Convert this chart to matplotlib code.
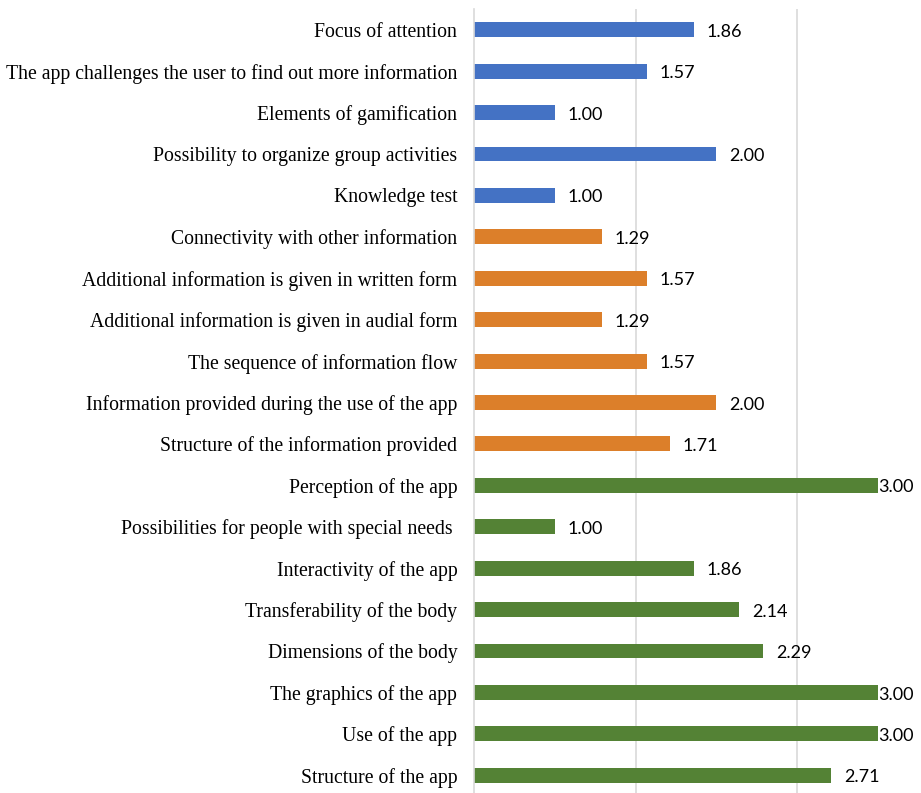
import matplotlib.pyplot as plt

# categories listed top to bottom, as in the picture
labels = [
    'Focus of attention',
    'The app challenges the user to find out more information',
    'Elements of gamification',
    'Possibility to organize group activities',
    'Knowledge test',
    'Connectivity with other information',
    'Additional information is given in written form',
    'Additional information is given in audial form',
    'The sequence of information flow',
    'Information provided during the use of the app',
    'Structure of the information provided',
    'Perception of the app',
    'Possibilities for people with special needs ',
    'Interactivity of the app',
    'Transferability of the body',
    'Dimensions of the body',
    'The graphics of the app',
    'Use of the app',
    'Structure of the app',
]
values = [1.86, 1.57, 1.00, 2.00, 1.00,
          1.29, 1.57, 1.29, 1.57, 2.00, 1.71,
          3.00, 1.00, 1.86, 2.14, 2.29, 3.00, 3.00, 2.71]
groups = ['blue'] * 5 + ['orange'] * 6 + ['green'] * 8

palette = {'blue': '#4472C4', 'orange': '#DC7F2A', 'green': '#548235'}
colors = [palette[g] for g in groups]

W, H = 921, 793
fig = plt.figure(figsize=(W / 100, H / 100), dpi=100)
ax = fig.add_axes([474 / W, -3 / H, (878 - 474) / W, 787 / H])

y = list(range(len(labels)))
ax.barh(y, values, color=colors, height=0.36, zorder=2)
ax.set_ylim(len(labels) - 0.5, -0.5)
ax.set_xlim(0.5, 3.0)

ax.set_yticks(y)
ax.set_yticklabels(labels, family='Liberation Serif', fontsize=14.2)
ax.tick_params(axis='y', length=0, pad=12)
ax.set_xticks([1.5, 2.5])
ax.tick_params(axis='x', length=0, labelbottom=False)
ax.grid(axis='x', color='#D9D9D9', linewidth=1.2, zorder=0)

for s in ['top', 'right', 'bottom']:
    ax.spines[s].set_visible(False)
ax.spines['left'].set_color('#D9D9D9')
ax.spines['left'].set_linewidth(1.2)

for yi, v in zip(y, values):
    off = 0.0 if v >= 3.0 else 0.08
    ax.text(v + off, yi + 0.05, f'{v:.2f}', va='center', ha='left', fontsize=13,
            family='Lato', clip_on=False)

fig.savefig('out.png', dpi=100, facecolor='white')
